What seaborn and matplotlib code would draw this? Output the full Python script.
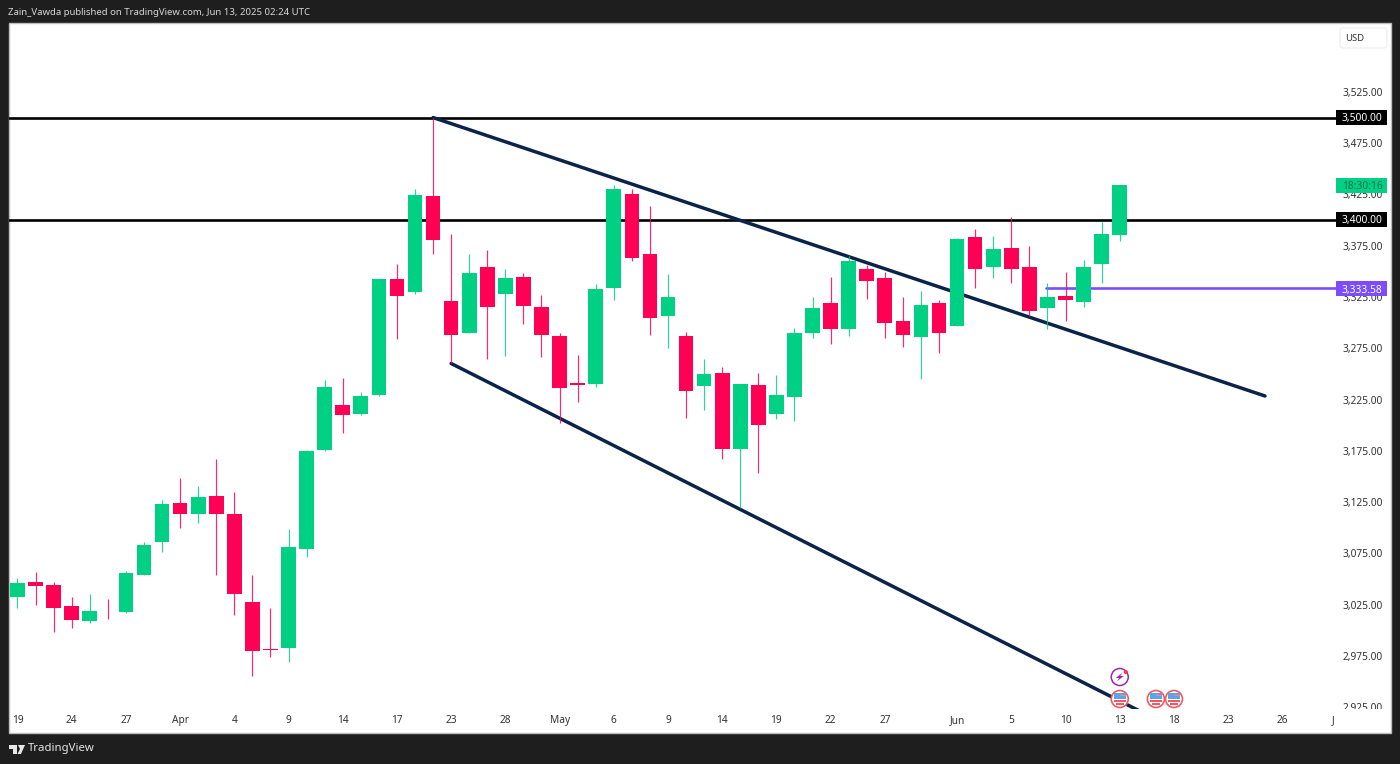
import matplotlib
matplotlib.use("Agg")
import matplotlib.pyplot as plt
import pandas as pd
import seaborn as sns
from matplotlib.patches import Rectangle, Circle, FancyBboxPatch, Polygon
from matplotlib.transforms import Affine2D, Bbox

# ---- data (USD) ----
opens = [3032.8,3047.4,3044.2,3023.5,3009.4,3018.2,3017.9,3054.3,3086.4,3124.2,3113.2,3130.7,3113.4,3027.4,2981.8,2982.8,
         3079.6,3175.4,3219.7,3210.7,3229.2,3342.3,3329.9,3423.5,3321.4,3290.2,3354.0,3328.2,3344.8,3315.6,3287.0,3240.7,
         3240.5,3334.1,3425.7,3366.7,3306.8,3287.0,3238.2,3251.2,3176.5,3238.9,3210.7,3227.8,3290.2,3318.9,3294.1,3352.3,
         3343.3,3301.3,3286.3,3318.9,3297.0,3383.2,3354.3,3372.5,3354.0,3314.6,3326.3,3320.1,3357.5,3385.5]
highs = [3051.0,3056.9,3046.9,3032.5,3035.2,3030.9,3058.2,3085.9,3126.8,3148.5,3140.7,3167.1,3135.2,3054.0,3021.8,3098.5,
         3175.8,3244.1,3246.0,3232.7,3342.6,3357.2,3430.0,3500.0,3386.4,3366.7,3370.8,3352.3,3348.1,3327.0,3289.6,3268.5,
         3337.4,3433.9,3430.0,3414.0,3347.4,3291.2,3264.6,3256.5,3240.2,3251.2,3249.0,3295.1,3324.7,3344.8,3365.0,3356.2,
         3349.7,3325.0,3330.6,3322.1,3382.5,3391.6,3384.2,3403.3,3374.7,3338.4,3349.1,3360.8,3398.4,3434.2]
lows = [3022.1,3025.0,2998.7,3002.0,3007.2,3011.4,3017.2,3053.7,3076.1,3100.1,3104.7,3053.7,3015.3,2955.8,2974.3,2969.4,
        3071.2,3174.9,3192.4,3210.0,3228.5,3283.8,3328.2,3366.9,3260.4,3289.6,3264.9,3267.5,3299.0,3266.8,3201.9,3222.4,
        3237.6,3322.1,3360.1,3288.3,3275.0,3207.3,3214.8,3167.4,3119.0,3153.7,3205.8,3204.1,3285.3,3279.2,3287.0,3323.4,
        3285.0,3276.6,3244.8,3270.7,3296.7,3333.5,3343.5,3339.0,3306.8,3293.5,3301.9,3315.3,3338.4,3379.3]
closes = [3045.9,3043.0,3022.1,3010.4,3018.9,3017.6,3055.6,3083.2,3123.5,3113.2,3130.0,3113.2,3035.4,2980.2,2980.8,3081.6,
          3174.6,3237.3,3210.0,3228.5,3342.3,3326.0,3424.2,3380.3,3287.7,3348.1,3315.3,3343.8,3316.0,3287.7,3236.6,3239.7,
          3332.8,3430.0,3363.3,3304.8,3324.7,3233.4,3249.7,3176.5,3239.9,3199.9,3229.5,3289.6,3314.6,3293.5,3359.8,3340.9,
          3299.4,3287.7,3317.2,3290.2,3381.6,3352.6,3371.5,3352.0,3311.1,3324.7,3321.8,3354.6,3386.4,3434.2]

x_tick_pos = [0,3,6,9,12,15,18,21,24,27,30,33,36,39,42,45,48,52,55,58,61,64,67,70,72.8]
x_tick_labels = ["19","24","27","Apr","4","9","14","17","23","28","May","6","9","14","19","22","27",
                 "Jun","5","10","13","18","23","26","J"]
y_ticks = [2925,2975,3025,3075,3125,3175,3225,3275,3325,3375,3425,3475,3525]
resistance_levels = [3500.0, 3400.0]
level_last = 3333.58
upper_x, upper_y = [23, 69.04], [3500.0, 3228.5]
lower_x, lower_y = [24, 63.2], [3260.2, 2911.6]
level_x = [56.9, 73]
event_flags = [61, 63, 64]

GREEN, RED, NAVY, PURPLE = "#00D084", "#FF0055", "#0A2348", "#7B4DFF"
DARK = "#1E1E1E"
FONT = "Noto Sans"

df = pd.DataFrame({"i": range(len(opens)), "o": opens, "h": highs, "l": lows, "c": closes})
df["bottom"] = df[["o", "c"]].min(axis=1)
df["height"] = (df["o"] - df["c"]).abs()
up, down = df[df.c >= df.o], df[df.c < df.o]

sns.set_theme(style="white", rc={"font.family": FONT})
W, H = 1400, 764
fig = plt.figure(figsize=(W / 100, H / 100), dpi=100, facecolor=DARK)
PX = Affine2D().scale(1, -1).translate(0, H)   # pixel frame for furniture

fig.add_artist(Rectangle((9, 23), 1382, 710, transform=PX, facecolor="white", edgecolor="#BDBDBD", lw=1, zorder=-5))

ax = fig.add_axes([9 / W, (H - 709) / H, 1327 / W, 686 / H])
ax.patch.set_alpha(0)

# candles
for sub, col in ((up, GREEN), (down, RED)):
    ax.vlines(sub.i, sub.l, sub.h, color=col, lw=0.85, zorder=2.5, alpha=0.85)
    sns.barplot(data=sub, x="i", y="height", bottom=sub["bottom"].to_numpy(), native_scale=True,
                color=col, saturation=1, width=0.81, errorbar=None, linewidth=0, zorder=3, ax=ax)

# levels and trend lines
for lv in resistance_levels:
    ax.axhline(lv, color="black", lw=1.9, zorder=2)
sns.lineplot(x=upper_x, y=upper_y, sort=False, color=NAVY, lw=2.5, zorder=2, ax=ax)
sns.lineplot(x=lower_x, y=lower_y, sort=False, color=NAVY, lw=2.5, zorder=2, ax=ax)
sns.lineplot(x=level_x, y=[level_last, level_last], sort=False, color=PURPLE, lw=1.9, zorder=2, ax=ax)

ax.set_xlim(-0.47, 72.97)
ax.set_ylim(2923.3, 3592.2)
ax.set_xlabel(""); ax.set_ylabel("")
sns.despine(ax=ax, left=True, bottom=True, right=True, top=True)
ax.set_xticks(x_tick_pos, x_tick_labels)
ax.yaxis.tick_right()
ax.set_yticks(y_ticks, [f"{v:,.2f}" for v in y_ticks])
ax.tick_params(axis="x", length=0, pad=4.5, labelsize=7.3, labelcolor="#333333")
ax.tick_params(axis="y", length=0, pad=5, labelsize=7.3, labelcolor="#333333")
# price scale text stops at the pane bottom
clip = Bbox([[1336, H - 709], [1391, H - 23]])
for lbl in ax.get_yticklabels():
    lbl.set_clip_on(True)
    lbl.set_clip_box(clip)

# price-scale tags
def tag(y, text, face, tc):
    fig.add_artist(Rectangle((1336, y - 7.5), 51, 15, transform=PX, facecolor=face, edgecolor="none", zorder=6))
    fig.text(1342 / W, 1 - y / H, text, color=tc, fontsize=7.4, va="center_baseline", ha="left", zorder=7)

tag(117.5, "3,500.00", "black", "white")
tag(219.5, "3,400.00", "black", "white")
tag(185, "18:30:16", GREEN, "#12704E")
tag(288.5, "3,333.58", PURPLE, "white")

# USD button
fig.add_artist(FancyBboxPatch((1340, 28), 47, 20, boxstyle="round,pad=0,rounding_size=3", transform=PX,
                              facecolor="white", edgecolor="#EDEDED", lw=0.8, zorder=6))
fig.text(1354.5 / W, 1 - 38.5 / H, "USD", color="#333333", fontsize=6.8, ha="center", va="center", zorder=7)

# header / footer
fig.text(8 / W, 1 - 12.5 / H, "Zain_Vawda published on TradingView.com, Jun 13, 2025 02:24 UTC",
         color="#D6D6D6", fontsize=6.9, ha="left", va="center")
fig.text(28 / W, 1 - 749 / H, "TradingView", color="#E6E6E6", fontsize=8.2, ha="left", va="center")
for poly in ([(9, 745), (17, 745), (17, 754), (13, 754), (13, 749), (9, 749)],
             [(18, 745), (25, 745), (21, 754), (17.5, 754), (20, 749)]):
    fig.add_artist(Polygon(poly, transform=PX, facecolor="#E6E6E6", edgecolor="none"))

# event markers (pixel-sized, anchored on the bar positions)
def bar_px(i):
    return 17.5 + 18.07 * i

def flag(cx, cy=699):
    fig.add_artist(Circle((cx, cy), 8.5, transform=PX, facecolor="white", edgecolor="#EE5A5F", lw=1.2, zorder=8))
    inner = Circle((cx, cy), 6, transform=PX, facecolor="none", edgecolor="none")
    fig.add_artist(inner)
    top = Rectangle((cx - 6, cy - 6), 12, 6, transform=PX, facecolor="#5AA5E8", edgecolor="none", zorder=9)
    low = Rectangle((cx - 6, cy + 1), 12, 2, transform=PX, facecolor="#EE5A5F", edgecolor="none", zorder=9)
    bot = Rectangle((cx - 4, cy + 4), 8, 1.5, transform=PX, facecolor="#EE5A5F", edgecolor="none", zorder=9)
    mid = Rectangle((cx, cy - 4), 6, 1.4, transform=PX, facecolor="#EE8A8F", edgecolor="none", zorder=9)
    for p in (top, low, bot, mid):
        fig.add_artist(p)

for e in event_flags:
    flag(bar_px(e))
cx = bar_px(61)
fig.add_artist(Circle((cx, 677), 8.5, transform=PX, facecolor="white", edgecolor="#9C27B0", lw=1.1, zorder=8))
fig.add_artist(Polygon([(cx + 3, 672.5), (cx - 4, 678), (cx - 0.5, 678), (cx - 3, 681.5), (cx + 4, 676), (cx + 0.5, 676)],
                       transform=PX, facecolor="#9C27B0", edgecolor="none", zorder=9))
fig.add_artist(Circle((cx + 6, 672), 2, transform=PX, facecolor="#F23645", edgecolor="none", zorder=9))

fig.savefig("out.png", dpi=100, facecolor=DARK)
